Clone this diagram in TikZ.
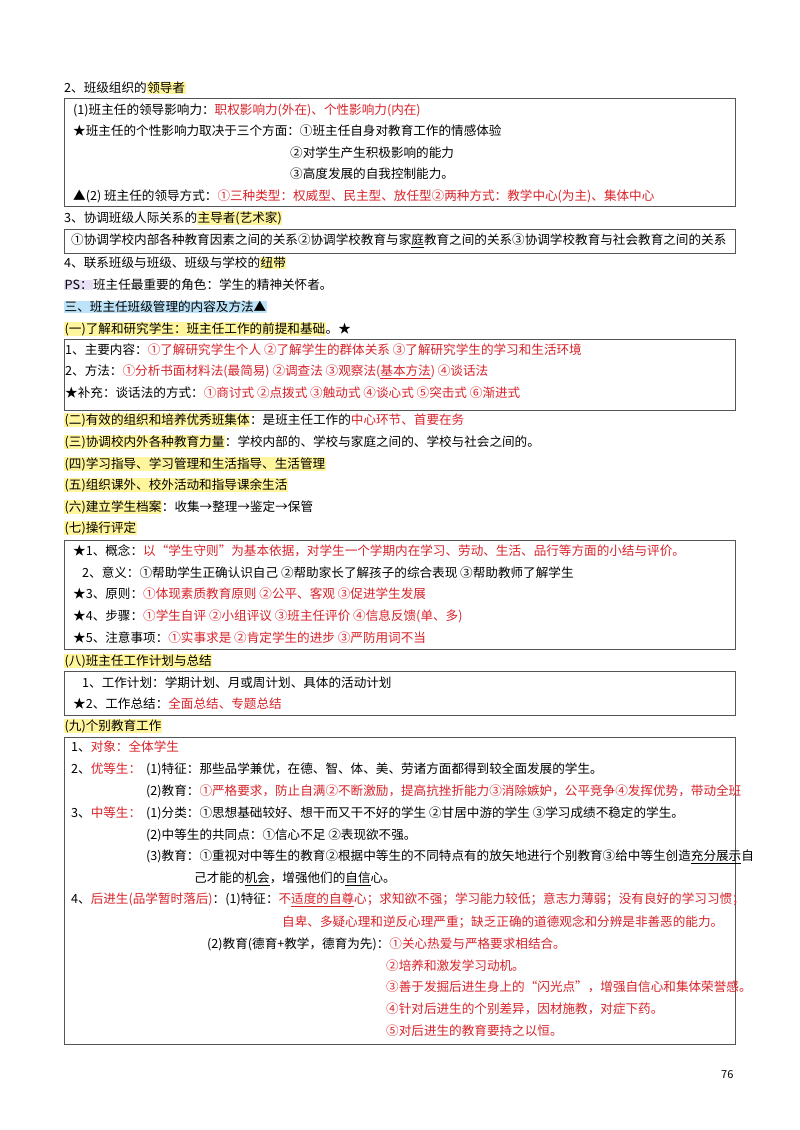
\documentclass[tikz,border=0pt]{standalone}
\usepackage{fontspec}
\setmainfont{Noto Sans CJK SC}
\definecolor{rd}{HTML}{D8232A}
\definecolor{hly}{HTML}{FFF59D}
\definecolor{hlb}{HTML}{BDE3F8}
\definecolor{hlp}{HTML}{E8E1F5}
\definecolor{bx}{HTML}{555555}
\newcommand\redt[1]{\textcolor{rd}{#1}}
\newcommand\hly[1]{{\setlength\fboxsep{0.5pt}\colorbox{hly}{#1}}}
\newcommand\hlbl[1]{{\setlength\fboxsep{0.5pt}\colorbox{hlb}{#1}}}
\newcommand\hlpp[1]{{\setlength\fboxsep{0.5pt}\colorbox{hlp}{#1}}}
\begin{document}
\begin{tikzpicture}[x=1pt,y=-1pt,
  tx/.style={anchor=west,inner sep=0pt,font=\fontsize{12.6}{14}\selectfont},
  frame/.style={draw=bx,line width=0.9pt}]
\useasboundingbox[fill=white] (0,0) rectangle (800,1130);
% headings
\node[tx] (h2) at (64,88) {2、班级组织的\hly{领导者}};
\draw[frame] (64,98) rectangle (735,206);
\node[tx] (a1) at (73,110) {(1)班主任的领导影响力：\redt{职权影响力(外在)、个性影响力(内在)}};
\node[tx] (a2) at (73,131) {★班主任的个性影响力取决于三个方面：①班主任自身对教育工作的情感体验};
\node[tx] (a3) at (290,153) {②对学生产生积极影响的能力};
\node[tx] (a4) at (290,174) {③高度发展的自我控制能力。};
\node[tx] (a5) at (73,196) {▲(2) 班主任的领导方式：\redt{①三种类型：权威型、民主型、放任型②两种方式：教学中心(为主)、集体中心}};
\node[tx] (h3) at (64,218) {3、协调班级人际关系的\hly{主导者(艺术家)}};
\draw[frame] (64,229) rectangle (735,253);
\node[tx] (b1) at (71,241) {①协调学校内部各种教育因素之间的关系②协调学校教育与家\underline{庭}教育之间的关系③协调学校教育与社会教育之间的关系};
\node[tx] (h4) at (64,263) {4、联系班级与班级、班级与学校的\hly{纽带}};
\node[tx] (ps) at (64,285) {\hlpp{PS：}班主任最重要的角色：学生的精神关怀者。};
\node[tx] (s3) at (64,307) {\hlbl{三、班主任班级管理的内容及方法▲}};
\node[tx] (k1) at (64,329) {\hly{(一)了解和研究学生：班主任工作的前提和基础}。★};
\draw[frame] (64,339) rectangle (735,410);
\node[tx] (c1) at (65,350) {1、主要内容：\redt{①了解研究学生个人 ②了解学生的群体关系 ③了解研究学生的学习和生活环境}};
\node[tx] (c2) at (65,372) {2、方法：\redt{①分析书面材料法(最简易) ②调查法 ③观察法(\underline{基本方法}) ④谈话法}};
\node[tx] (c3) at (65,393) {★补充：谈话法的方式：\redt{①商讨式 ②点拨式 ③触动式 ④谈心式 ⑤突击式 ⑥渐进式}};
\node[tx] (k2) at (64,420) {\hly{(二)有效的组织和培养优秀班集体}：是班主任工作的\redt{中心环节、首要在务}};
\node[tx] (k3) at (64,442) {\hly{(三)协调校内外各种教育力量}：学校内部的、学校与家庭之间的、学校与社会之间的。};
\node[tx] (k4) at (64,464) {\hly{(四)学习指导、学习管理和生活指导、生活管理}};
\node[tx] (k5) at (64,485) {\hly{(五)组织课外、校外活动和指导课余生活}};
\node[tx] (k6) at (64,507) {\hly{(六)建立学生档案}：收集→整理→鉴定→保管};
\node[tx] (k7) at (64,528) {\hly{(七)操行评定}};
\draw[frame] (64,540) rectangle (735,649);
\node[tx] (d1) at (73,551) {★1、概念：\redt{以“学生守则”为基本依据，对学生一个学期内在学习、劳动、生活、品行等方面的小结与评价。}};
\node[tx] (d2) at (82,573) {2、意义：①帮助学生正确认识自己 ②帮助家长了解孩子的综合表现 ③帮助教师了解学生};
\node[tx] (d3) at (73,594) {★3、原则：\redt{①体现素质教育原则 ②公平、客观 ③促进学生发展}};
\node[tx] (d4) at (73,616) {★4、步骤：\redt{①学生自评 ②小组评议 ③班主任评价 ④信息反馈(单、多)}};
\node[tx] (d5) at (73,638) {★5、注意事项：\redt{①实事求是 ②肯定学生的进步 ③严防用词不当}};
\node[tx] (k8) at (64,661) {\hly{(八)班主任工作计划与总结}};
\draw[frame] (64,671) rectangle (735,715);
\node[tx] (e1) at (82,683) {1、工作计划：学期计划、月或周计划、具体的活动计划};
\node[tx] (e2) at (73,704) {★2、工作总结：\redt{全面总结、专题总结}};
\node[tx] (k9) at (64,726) {\hly{(九)个别教育工作}};
\draw[frame] (64,737) rectangle (735,1044);
\node[tx] (f1) at (71,747) {1、\redt{对象：全体学生}};
\node[tx] (f2) at (71,769) {2、\redt{优等生：}};
\node[tx] (f2a) at (146,769) {(1)特征：那些品学兼优，在德、智、体、美、劳诸方面都得到较全面发展的学生。};
\node[tx] (f2b) at (146,791) {(2)教育：\redt{①严格要求，防止自满②不断激励，提高抗挫折能力③消除嫉妒，公平竞争④发挥优势，带动全班}};
\node[tx] (f3) at (71,813) {3、\redt{中等生：}};
\node[tx] (f3a) at (146,813) {(1)分类：①思想基础较好、想干而又干不好的学生 ②甘居中游的学生 ③学习成绩不稳定的学生。};
\node[tx] (f3b) at (146,835) {(2)中等生的共同点：①信心不足 ②表现欲不强。};
\node[tx] (f3c) at (146,857) {(3)教育：①重视对中等生的教育②根据中等生的不同特点有的放矢地进行个别教育③给中等生创造\underline{充分展示}自};
\node[tx] (f3d) at (194,879) {己才能的\underline{机会}，增强他们的\underline{自信}心。};
\node[tx] (f4) at (71,900) {4、\redt{后进生(品学暂时落后)}：(1)特征：\redt{不\underline{适度的自尊}心；求知欲不强；学习能力较低；意志力薄弱；没有良好的学习习惯；}};
\node[tx] (f4a) at (282,922) {\redt{自卑、多疑心理和逆反心理严重；缺乏正确的道德观念和分辨是非善恶的能力。}};
\node[tx] (f4b) at (207,944) {(2)教育(德育+教学，德育为先)：\redt{①关心热爱与严格要求相结合。}};
\node[tx] (f4c) at (386,966) {\redt{②培养和激发学习动机。}};
\node[tx] (f4d) at (386,987) {\redt{③善于发掘后进生身上的“闪光点”，增强自信心和集体荣誉感。}};
\node[tx] (f4e) at (386,1009) {\redt{④针对后进生的个别差异，因材施教，对症下药。}};
\node[tx] (f4f) at (386,1031) {\redt{⑤对后进生的教育要持之以恒。}};
\node[tx,font=\fontsize{11}{12}\selectfont] (pg) at (721,1075) {76};
\end{tikzpicture}
\end{document}
